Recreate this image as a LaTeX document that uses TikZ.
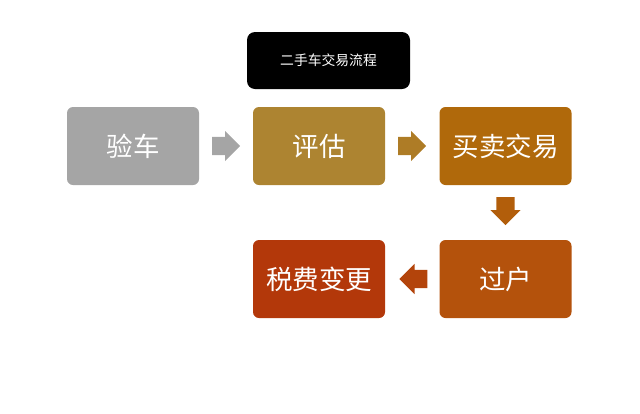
\documentclass[tikz,border=0pt]{standalone}
\usepackage{fontspec}
\newfontfamily\cjk{Noto Sans CJK SC}
\usetikzlibrary{shapes.arrows}

\definecolor{stepgray}{HTML}{A5A5A5}
\definecolor{stepgold}{HTML}{AD8431}
\definecolor{steporange}{HTML}{B0690B}
\definecolor{steprust}{HTML}{B4520C}
\definecolor{stepred}{HTML}{B3380A}

\begin{document}
\begin{tikzpicture}[
    x=1pt, y=1pt,
    stepbox/.style={rounded corners=6pt, minimum width=132pt, minimum height=78pt,
        text=white, font=\cjk\fontsize{26.5}{30}\selectfont, inner sep=0pt},
    blockarrow/.style={single arrow, minimum height=28pt, inner xsep=0pt, inner ysep=9pt,
        single arrow head extend=6pt, single arrow head indent=0pt}
]
    \useasboundingbox (0,0) rectangle (640,-413);

    % 标题
    \node[fill=black, rounded corners=8pt, minimum width=163pt, minimum height=57pt,
        text=white, font=\cjk\fontsize{13.8}{16}\selectfont] (title) at (328.5,-60.5) {二手车交易流程};

    % 上排
    \node[stepbox, fill=stepgray] (yanche) at (133,-146) {验车};
    \node[stepbox, fill=stepgold] (pinggu) at (319,-146) {评估};
    \node[stepbox, fill=steporange] (maimai) at (505.5,-146) {买卖交易};

    % 下排
    \node[stepbox, fill=steprust] (guohu) at (505.5,-279) {过户};
    \node[stepbox, fill=stepred] (shuifei) at (319,-279) {税费变更};

    % 块箭头
    \node[blockarrow, fill=stepgray, anchor=tail] (a1) at (212,-146) {};
    \node[blockarrow, fill=stepgold!70!steporange, anchor=tail] (a2) at (398,-146) {};
    \node[blockarrow, fill=steporange!50!steprust, rotate=-90, anchor=tail] (a3) at (505.5,-197) {};
    \node[blockarrow, fill=steprust!45!stepred, rotate=180, anchor=tail] (a4) at (427.5,-279) {};
\end{tikzpicture}
\end{document}
